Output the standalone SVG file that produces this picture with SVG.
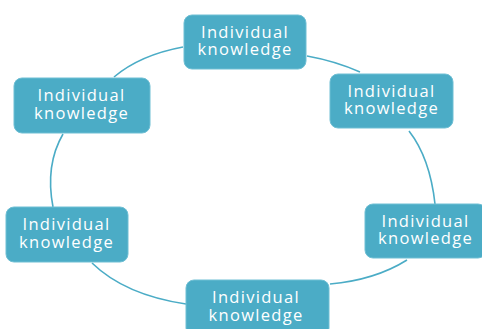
<svg xmlns="http://www.w3.org/2000/svg" width="482" height="329" viewBox="0 0 482 329">
<style>
.box{fill:#4bacc6;stroke:#6fbfd4;stroke-width:1}
.lbl{font-family:"Open Sans","Noto Sans",sans-serif;font-size:16.5px;fill:#ffffff;text-anchor:middle;letter-spacing:1.3px}
.arc{fill:none;stroke:#4bacc6;stroke-width:1.6}
</style>
<rect width="482" height="329" fill="#ffffff"/>
<g id="connectors">
<path class="arc" d="M114,77 Q140,55 183,47"/>
<path class="arc" d="M307,56 Q335,61 360,72"/>
<path class="arc" d="M409,131 Q430,158 435,204"/>
<path class="arc" d="M407,260 Q375,280 330,284"/>
<path class="arc" d="M92,263 Q125,295 186,304"/>
<path class="arc" d="M63,134 Q45,165 53,207"/>
</g>
<g id="node-top">
<rect class="box" x="184" y="15" width="122" height="54" rx="8"/>
<text class="lbl" x="245" y="37.5">Individual<tspan x="245" dy="17.5">knowledge</tspan></text>
</g>
<g id="node-upper-right">
<rect class="box" x="330" y="74" width="123" height="54" rx="8"/>
<text class="lbl" x="391.5" y="96.5">Individual<tspan x="391.5" dy="17.5">knowledge</tspan></text>
</g>
<g id="node-lower-right">
<rect class="box" x="365" y="204" width="121" height="54" rx="8"/>
<text class="lbl" x="425.5" y="226.5">Individual<tspan x="425.5" dy="17.5">knowledge</tspan></text>
</g>
<g id="node-bottom">
<rect class="box" x="186" y="280" width="143" height="56" rx="8"/>
<text class="lbl" x="256" y="303">Individual<tspan x="256" dy="17.5">knowledge</tspan></text>
</g>
<g id="node-lower-left">
<rect class="box" x="6" y="207" width="122" height="55" rx="8"/>
<text class="lbl" x="66.5" y="230">Individual<tspan x="66.5" dy="17.5">knowledge</tspan></text>
</g>
<g id="node-upper-left">
<rect class="box" x="14" y="78" width="136" height="55" rx="8"/>
<text class="lbl" x="81.5" y="101">Individual<tspan x="81.5" dy="17.5">knowledge</tspan></text>
</g>
</svg>
